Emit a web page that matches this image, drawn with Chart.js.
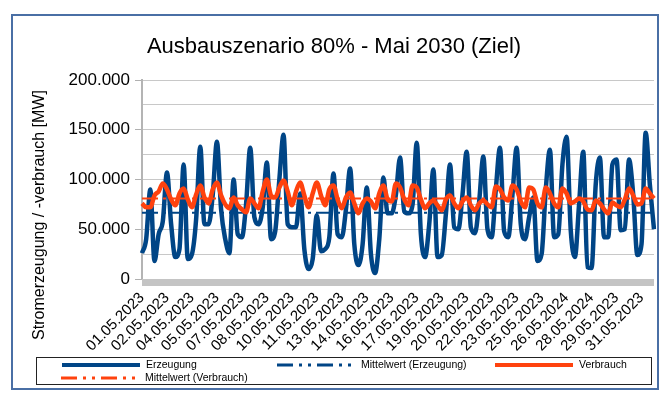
<!DOCTYPE html>
<html>
<head>
<meta charset="utf-8">
<script src="https://cdn.jsdelivr.net/npm/chart.js@4.4.0/dist/chart.umd.min.js"></script>
<style>
  html, body { margin: 0; padding: 0; background: #fff; }
  #wrap { position: relative; width: 670px; height: 396px; }
  #frame { position: absolute; left: 11px; top: 14px; width: 644px; height: 372px;
           border: 2px solid #4a6fa5; pointer-events: none; }
</style>
</head>
<body>
<div id="wrap">
  <canvas id="chart" width="670" height="396"></canvas>
  <div id="frame"></div>
</div>
<script>
// tick labels as printed on the x axis (one every 36 hours)
const tickLabels = ['01.05.2023', '02.05.2023', '04.05.2023', '05.05.2023', '07.05.2023', '08.05.2023',
    '10.05.2023', '11.05.2023', '13.05.2023', '14.05.2023', '16.05.2023', '17.05.2023', '19.05.2023',
    '20.05.2023', '22.05.2023', '23.05.2023', '25.05.2023', '26.05.2024', '28.05.2024', '29.05.2023',
    '31.05.2023'];

// 6-hourly values (00, 06, 12, 18 h) for May
const hours = ['00:00', '06:00', '12:00', '18:00'];
const categories = [];
for (let d = 1; d <= 31; d++) {
    for (const h of hours) categories.push(String(d).padStart(2, '0') + '.05.2023 ' + h);
}

// Erzeugung [MW]
const erzeugung = [
    26000, 40000, 90000, 18000,
    45000, 58000, 107000, 55000,
    22000, 30000, 115000, 20000,
    25000, 60000, 133000, 55000,
    55000, 85000, 138000, 70000,
    40000, 26000, 100000, 45000,
    42000, 75000, 132000, 62000,
    55000, 72000, 117000, 40000,
    48000, 100000, 145000, 55000,
    52000, 52000, 86000, 30000,
    10000, 20000, 64000, 28000,
    30000, 42000, 106000, 45000,
    42000, 70000, 111000, 35000,
    14000, 35000, 92000, 25000,
    6000, 40000, 102000, 66000,
    66000, 85000, 122000, 68000,
    66000, 75000, 137000, 45000,
    22000, 55000, 110000, 22000,
    24000, 65000, 115000, 52000,
    50000, 85000, 128000, 52000,
    46000, 78000, 123000, 50000,
    42000, 90000, 132000, 48000,
    42000, 85000, 132000, 55000,
    40000, 62000, 82000, 18000,
    25000, 90000, 130000, 42000,
    45000, 115000, 143000, 49000,
    22000, 75000, 128000, 12000,
    11000, 95000, 122000, 42000,
    42000, 115000, 120000, 49000,
    50000, 120000, 85000, 24000,
    35000, 147000, 95000, 50000
];

// Verbrauch [MW]
const verbrauch = [
    76000, 72000, 72000, 84000,
    88000, 96000, 90000, 80000,
    74000, 86000, 91000, 80000,
    72000, 85000, 94000, 82000,
    76000, 90000, 97000, 84000,
    75000, 71000, 82000, 74000,
    70000, 67000, 81000, 76000,
    71000, 88000, 100000, 84000,
    82000, 92000, 99000, 88000,
    74000, 88000, 97000, 84000,
    72000, 86000, 97000, 84000,
    74000, 90000, 94000, 80000,
    71000, 82000, 87000, 76000,
    66000, 76000, 81000, 78000,
    71000, 86000, 94000, 80000,
    78000, 96000, 92000, 80000,
    74000, 94000, 92000, 80000,
    71000, 76000, 79000, 74000,
    69000, 80000, 84000, 76000,
    71000, 78000, 82000, 74000,
    69000, 76000, 79000, 75000,
    72000, 93000, 90000, 82000,
    79000, 94000, 90000, 78000,
    72000, 92000, 90000, 76000,
    72000, 92000, 86000, 76000,
    72000, 91000, 86000, 76000,
    78000, 81000, 78000, 70000,
    69000, 79000, 76000, 70000,
    66000, 77000, 74000, 72000,
    80000, 91000, 84000, 75000,
    76000, 91000, 86000, 81000
];

// Mittelwerte
const mittelErzeugung = 66500;
const mittelVerbrauch = 81000;

const BLUE = '#004586';
const ORANGE = '#ff420e';
const FONT = "'Liberation Sans', Arial, sans-serif";

function fmt(v) {
    return String(v).replace(/\B(?=(\d{3})+(?!\d))/g, '.');
}

// title, grey floor under the plot, y axis title
const extras = {
    id: 'extras',
    beforeDatasetsDraw(chart) {
        const { ctx, chartArea } = chart;
        ctx.save();
        ctx.fillStyle = '#c4c4c4';
        ctx.fillRect(chartArea.left, chartArea.bottom, chartArea.right - chartArea.left, 7);
        ctx.restore();
    },
    afterDraw(chart) {
        const ctx = chart.ctx;
        ctx.save();
        ctx.fillStyle = '#000';
        ctx.textAlign = 'center';
        ctx.textBaseline = 'middle';
        ctx.font = '22px ' + FONT;
        ctx.fillText('Ausbauszenario 80% - Mai 2030 (Ziel)', 334, 47);
        ctx.translate(40, 215);
        ctx.rotate(-Math.PI / 2);
        ctx.font = '16px ' + FONT;
        ctx.fillText('Stromerzeugung / -verbrauch [MW]', 0, 0);
        ctx.restore();
    }
};

// boxed legend like the original
const boxLegend = {
    id: 'boxLegend',
    afterDraw(chart) {
        const ctx = chart.ctx;
        const ds = chart.data.datasets;
        const items = [[0, 62, 365], [1, 277, 365], [2, 495, 365], [3, 61, 378]];
        ctx.save();
        ctx.strokeStyle = '#222';
        ctx.lineWidth = 1;
        ctx.strokeRect(36.5, 357.5, 615, 27);
        ctx.font = '10.5px ' + FONT;
        ctx.textBaseline = 'middle';
        ctx.fillStyle = '#000';
        items.forEach(([i, x, y]) => {
            ctx.beginPath();
            ctx.strokeStyle = ds[i].borderColor;
            ctx.lineWidth = ds[i].borderDash ? 3 : 4;
            ctx.setLineDash(ds[i].borderDash ? [16, 6, 3, 6, 3, 6] : []);
            ctx.moveTo(x, y);
            ctx.lineTo(x + 78, y);
            ctx.stroke();
            ctx.setLineDash([]);
            ctx.fillText(ds[i].label, x + 84, y);
        });
        ctx.restore();
    }
};

const ctx = document.getElementById('chart');
new Chart(ctx, {
    type: 'line',
    data: {
        labels: categories,
        datasets: [{
            label: 'Erzeugung',
            data: erzeugung,
            borderColor: BLUE,
            borderWidth: 4.5,
            pointRadius: 0,
            cubicInterpolationMode: 'monotone',
            order: 3
        }, {
            label: 'Mittelwert (Erzeugung)',
            data: categories.map(() => mittelErzeugung),
            borderColor: BLUE,
            borderWidth: 2,
            borderDash: [16, 5, 3, 5],
            pointRadius: 0,
            order: 1
        }, {
            label: 'Verbrauch',
            data: verbrauch,
            borderColor: ORANGE,
            borderWidth: 4.5,
            pointRadius: 0,
            cubicInterpolationMode: 'monotone',
            order: 0
        }, {
            label: 'Mittelwert (Verbrauch)',
            data: categories.map(() => mittelVerbrauch),
            borderColor: ORANGE,
            borderWidth: 2,
            borderDash: [16, 5, 3, 5],
            pointRadius: 0,
            order: 1
        }]
    },
    options: {
        responsive: false,
        animation: false,
        layout: { padding: { left: 0, right: 16, top: 80, bottom: 0 } },
        plugins: {
            legend: { display: false },
            tooltip: { enabled: false },
            title: { display: false }
        },
        scales: {
            x: {
                grid: { display: false, drawTicks: false },
                border: { display: false },
                afterFit(scale) {
                    scale.height = 117;
                    scale.paddingRight = 0;
                },
                ticks: {
                    autoSkip: false,
                    minRotation: 45,
                    maxRotation: 45,
                    padding: 10,
                    color: '#000',
                    font: { family: FONT, size: 15 },
                    callback: (v, i) => (i % 6 === 0 ? tickLabels[i / 6] : '')
                }
            },
            y: {
                min: 0,
                max: 200000,
                afterFit(scale) { scale.width = 142; },
                grid: {
                    color: '#c8c8c8',
                    tickLength: 7,
                    tickColor: (c) => (c.tick && c.tick.value % 50000 === 0 ? '#b0b0b0' : 'rgba(0,0,0,0)')
                },
                border: { color: '#b4b4b4', width: 2 },
                ticks: {
                    stepSize: 25000,
                    padding: 5,
                    color: '#000',
                    font: { family: FONT, size: 17 },
                    callback: (v) => (v % 50000 === 0 ? fmt(v) : '')
                }
            }
        }
    },
    plugins: [extras, boxLegend]
});
</script>
</body>
</html>
